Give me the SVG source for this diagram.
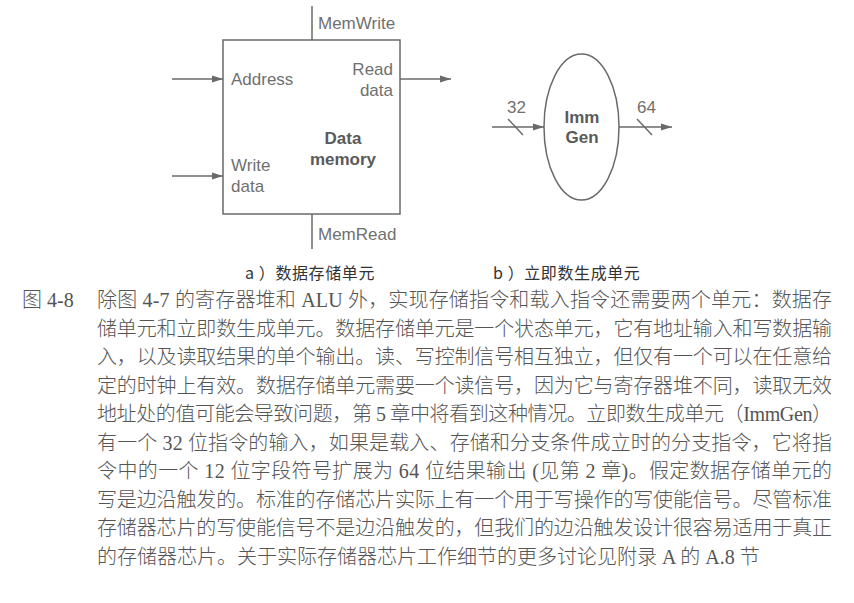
<svg xmlns="http://www.w3.org/2000/svg" width="854" height="603" viewBox="0 0 854 603">
<style>
.ln{stroke:#6a6a6a;stroke-width:1.5;fill:none}
.lbl{font-family:"Liberation Sans",Arial,sans-serif;font-size:17px;fill:#707070}
.bold{font-family:"Liberation Sans",Arial,sans-serif;font-size:17px;font-weight:bold;fill:#5a5a5a}
.cap{font-family:"Noto Sans CJK SC",sans-serif;font-size:16px;fill:#333;letter-spacing:0.6px}
.body{font-family:"Liberation Serif","Noto Sans CJK SC",serif;font-size:20px;font-weight:300;fill:#555}
</style>
<defs>
<marker id="arr" markerUnits="userSpaceOnUse" markerWidth="12" markerHeight="8" refX="11" refY="4" orient="auto">
<path d="M0,0.5 L11,4 L0,7.5 Z" fill="#6a6a6a"/>
</marker>
</defs>
<rect width="854" height="603" fill="#fff"/>
<g id="connectors">
<line class="ln" x1="172" y1="79" x2="223" y2="79" marker-end="url(#arr)"/>
<line class="ln" x1="172" y1="176" x2="223" y2="176" marker-end="url(#arr)"/>
<line class="ln" x1="400" y1="79" x2="451" y2="79" marker-end="url(#arr)"/>
<line class="ln" x1="312" y1="6" x2="312" y2="40"/>
<line class="ln" x1="312" y1="214" x2="312" y2="249"/>
<line class="ln" x1="492" y1="127" x2="544" y2="127" marker-end="url(#arr)"/>
<line class="ln" x1="619" y1="127" x2="672" y2="127" marker-end="url(#arr)"/>
<line class="ln" x1="508" y1="119" x2="523" y2="135"/>
<line class="ln" x1="637" y1="119" x2="652" y2="135"/>
</g>
<g id="labels">
<text class="lbl" x="318" y="29">MemWrite</text>
<text class="lbl" x="318" y="240">MemRead</text>
<text class="lbl" x="507" y="113">32</text>
<text class="lbl" x="637" y="113">64</text>
</g>
<g id="data-memory">
<rect class="ln" x="223" y="40" width="177" height="174"/>
<text class="lbl" x="231" y="85">Address</text>
<text class="lbl" x="393" y="75" text-anchor="end">Read</text>
<text class="lbl" x="393" y="96" text-anchor="end">data</text>
<text class="lbl" x="231" y="171">Write</text>
<text class="lbl" x="231" y="192">data</text>
<text class="bold" x="343" y="144" text-anchor="middle">Data</text>
<text class="bold" x="343" y="165" text-anchor="middle">memory</text>
</g>
<g id="immgen">
<ellipse class="ln" cx="581.5" cy="127" rx="37.5" ry="73"/>
<text class="bold" x="582" y="123" text-anchor="middle">Imm</text>
<text class="bold" x="582" y="143" text-anchor="middle">Gen</text>
</g>
<g id="captions">
<text class="cap" x="245" y="279">a ）数据存储单元</text>
<text class="cap" x="493" y="279">b ）立即数生成单元</text>
</g>
<g id="body">
<text class="body" x="22" y="307">图 4-8</text>
<text class="body" x="97" y="307" textLength="735" lengthAdjust="spacing">除图 4-7 的寄存器堆和 ALU 外，实现存储指令和载入指令还需要两个单元：数据存</text>
<text class="body" x="97" y="335.5" textLength="735" lengthAdjust="spacing">储单元和立即数生成单元。数据存储单元是一个状态单元，它有地址输入和写数据输</text>
<text class="body" x="97" y="364" textLength="735" lengthAdjust="spacing">入，以及读取结果的单个输出。读、写控制信号相互独立，但仅有一个可以在任意给</text>
<text class="body" x="97" y="392.5" textLength="735" lengthAdjust="spacing">定的时钟上有效。数据存储单元需要一个读信号，因为它与寄存器堆不同，读取无效</text>
<text class="body" x="97" y="421" textLength="735" lengthAdjust="spacing">地址处的值可能会导致问题，第 5 章中将看到这种情况。立即数生成单元（ImmGen）</text>
<text class="body" x="97" y="449.5" textLength="735" lengthAdjust="spacing">有一个 32 位指令的输入，如果是载入、存储和分支条件成立时的分支指令，它将指</text>
<text class="body" x="97" y="478" textLength="735" lengthAdjust="spacing">令中的一个 12 位字段符号扩展为 64 位结果输出 (见第 2 章)。假定数据存储单元的</text>
<text class="body" x="97" y="506.5" textLength="735" lengthAdjust="spacing">写是边沿触发的。标准的存储芯片实际上有一个用于写操作的写使能信号。尽管标准</text>
<text class="body" x="97" y="535" textLength="735" lengthAdjust="spacing">存储器芯片的写使能信号不是边沿触发的，但我们的边沿触发设计很容易适用于真正</text>
<text class="body" x="97" y="563.5">的存储器芯片。关于实际存储器芯片工作细节的更多讨论见附录 A 的 A.8 节</text>
</g>
</svg>
